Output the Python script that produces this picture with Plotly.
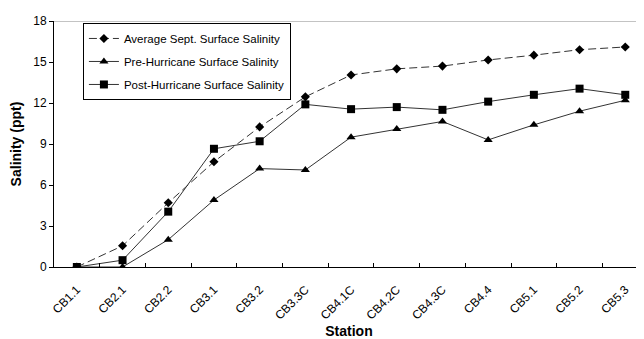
import plotly.graph_objects as go

stations = ["CB1.1", "CB2.1", "CB2.2", "CB3.1", "CB3.2", "CB3.3C", "CB4.1C",
            "CB4.2C", "CB4.3C", "CB4.4", "CB5.1", "CB5.2", "CB5.3"]
avg_sept = [0, 1.55, 4.7, 7.7, 10.25, 12.45, 14.05, 14.5, 14.7, 15.15, 15.5, 15.9, 16.1]
pre_hurricane = [0, 0, 2.0, 4.9, 7.2, 7.1, 9.5, 10.1, 10.65, 9.3, 10.4, 11.4, 12.2]
post_hurricane = [0, 0.5, 4.05, 8.65, 9.2, 11.9, 11.55, 11.7, 11.5, 12.1, 12.6, 13.05, 12.6]
y_ticks = [0, 3, 6, 9, 12, 15, 18]

line_col = "#333333"
fig = go.Figure()
fig.add_trace(go.Scatter(x=stations, y=avg_sept, name="Average Sept. Surface Salinity",
                         mode="lines+markers", legendgroup="a",
                         line=dict(color=line_col, width=1, dash="8px,4px"),
                         marker=dict(symbol="diamond", size=7, color="black")))
fig.add_trace(go.Scatter(x=stations, y=pre_hurricane, name="Pre-Hurricane Surface Salinity",
                         mode="lines+markers", legendgroup="b",
                         line=dict(color=line_col, width=1),
                         marker=dict(symbol="triangle-up", size=8, color="black")))
fig.add_trace(go.Scatter(x=stations, y=post_hurricane, name="Post-Hurricane Surface Salinity",
                         mode="lines+markers", legendgroup="c",
                         line=dict(color=line_col, width=1),
                         marker=dict(symbol="square", size=8, color="black")))

fig.update_layout(
    width=636, height=331,
    margin=dict(l=46, r=0, t=13, b=72),
    paper_bgcolor="white", plot_bgcolor="white",
    font=dict(family="Arial, Liberation Sans, sans-serif", color="black", size=12),
    showlegend=True,
    legend=dict(x=0.049, y=0.992, xanchor="left", yanchor="top",
                bordercolor="black", borderwidth=1, bgcolor="white",
                tracegroupgap=4, traceorder="grouped",
                font=dict(size=11.5, color="black")),
    xaxis=dict(type="category", range=[-0.5, 12.41], tickson="boundaries",
               ticks="inside", ticklen=4, tickcolor="black",
               showline=True, linecolor="black", linewidth=1,
               showgrid=False, zeroline=False, tickangle=-45, ticklabelstandoff=10,
               title=dict(text="<b>Station</b>", font=dict(size=14), standoff=8)),
    yaxis=dict(range=[0, 18], tickvals=y_ticks, ticks="outside", ticklen=4,
               tickcolor="black", showline=True, linecolor="black", linewidth=1,
               showgrid=False, zeroline=False,
               title=dict(text="<b>Salinity (ppt)</b>", font=dict(size=14), standoff=10)),
)
fig.add_shape(type="line", xref="paper", yref="y", x0=0, x1=1, y0=18, y1=18,
              line=dict(color="#888888", width=1))

fig.write_html("out.html")
